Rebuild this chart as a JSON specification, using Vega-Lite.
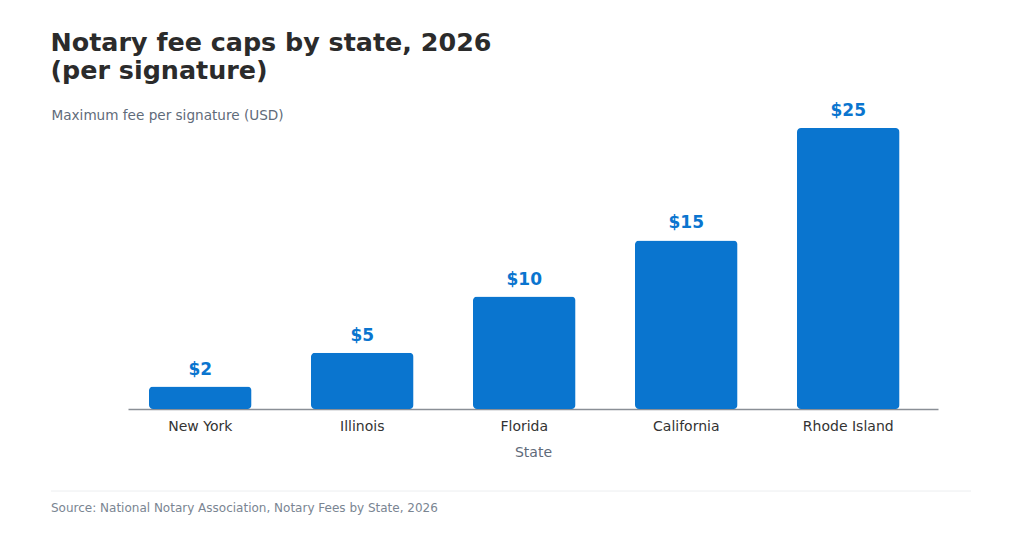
{
  "$schema": "https://vega.github.io/schema/vega-lite/v6.json",
  "background": "#ffffff",
  "padding": {"left": 50, "top": 30, "right": 20, "bottom": 10},
  "config": {"font": "DejaVu Sans", "view": {"stroke": null}},
  "title": {
    "text": ["Notary fee caps by state, 2026", "(per signature)"],
    "anchor": "start",
    "fontSize": 25.4,
    "fontWeight": "bold",
    "color": "#2b2b2b",
    "lineHeight": 28,
    "offset": 18
  },
  "spacing": 31,
  "vconcat": [
    {
      "width": 810,
      "height": 281,
      "data": {
        "values": [
          {"state": "New York", "fee": 2},
          {"state": "Illinois", "fee": 5},
          {"state": "Florida", "fee": 10},
          {"state": "California", "fee": 15},
          {"state": "Rhode Island", "fee": 25}
        ]
      },
      "encoding": {
        "x": {
          "field": "state",
          "type": "nominal",
          "sort": null,
          "title": "State",
          "scale": {"paddingInner": 0.367, "paddingOuter": 0.1835, "align": 0.353},
          "axis": {
            "labelAngle": 0,
            "labelFontSize": 14,
            "labelColor": "#333333",
            "labelPadding": 10,
            "ticks": false,
            "domainColor": "#8a8f96",
            "domainWidth": 1.5,
            "titleFontSize": 14,
            "titleFontWeight": "normal",
            "titleColor": "#5f6b7a",
            "titlePadding": 12
          }
        },
        "y": {
          "field": "fee",
          "type": "quantitative",
          "scale": {"domain": [0, 25]},
          "axis": {
            "title": "Maximum fee per signature (USD)",
            "titleAngle": 0,
            "titleAlign": "left",
            "titleBaseline": "alphabetic",
            "titleX": -77,
            "titleY": -9,
            "titleFontSize": 13.6,
            "titleFontWeight": "normal",
            "titleColor": "#5f6b7a",
            "labels": false,
            "ticks": false,
            "domain": false,
            "grid": false
          }
        }
      },
      "layer": [
        {"mark": {"type": "bar", "color": "#0a75cf", "cornerRadius": 4}},
        {
          "mark": {
            "type": "text",
            "dy": -12,
            "baseline": "alphabetic",
            "fontSize": 17,
            "fontWeight": "bold",
            "color": "#0a75cf"
          },
          "encoding": {"text": {"field": "fee", "type": "quantitative", "format": "$.0f"}}
        }
      ]
    },
    {
      "width": 843,
      "height": 21,
      "data": {"values": [{"source": "Source: National Notary Association, Notary Fees by State, 2026"}]},
      "layer": [
        {
          "mark": {"type": "rule", "color": "#eceef0", "strokeWidth": 1},
          "encoding": {
            "x": {"datum": -77, "type": "quantitative", "scale": {"domain": [0, 843], "nice": false}, "axis": null},
            "x2": {"datum": 843},
            "y": {"datum": 1, "type": "quantitative", "scale": {"domain": [0, 1], "nice": false}, "axis": null}
          }
        },
        {
          "mark": {"type": "text", "align": "left", "baseline": "alphabetic", "fontSize": 12, "color": "#7a8592"},
          "encoding": {
            "x": {"datum": -77, "type": "quantitative", "scale": {"domain": [0, 843], "nice": false}, "axis": null},
            "y": {"datum": 0, "type": "quantitative", "scale": {"domain": [0, 1], "nice": false}, "axis": null},
            "text": {"field": "source"}
          }
        }
      ]
    }
  ]
}
